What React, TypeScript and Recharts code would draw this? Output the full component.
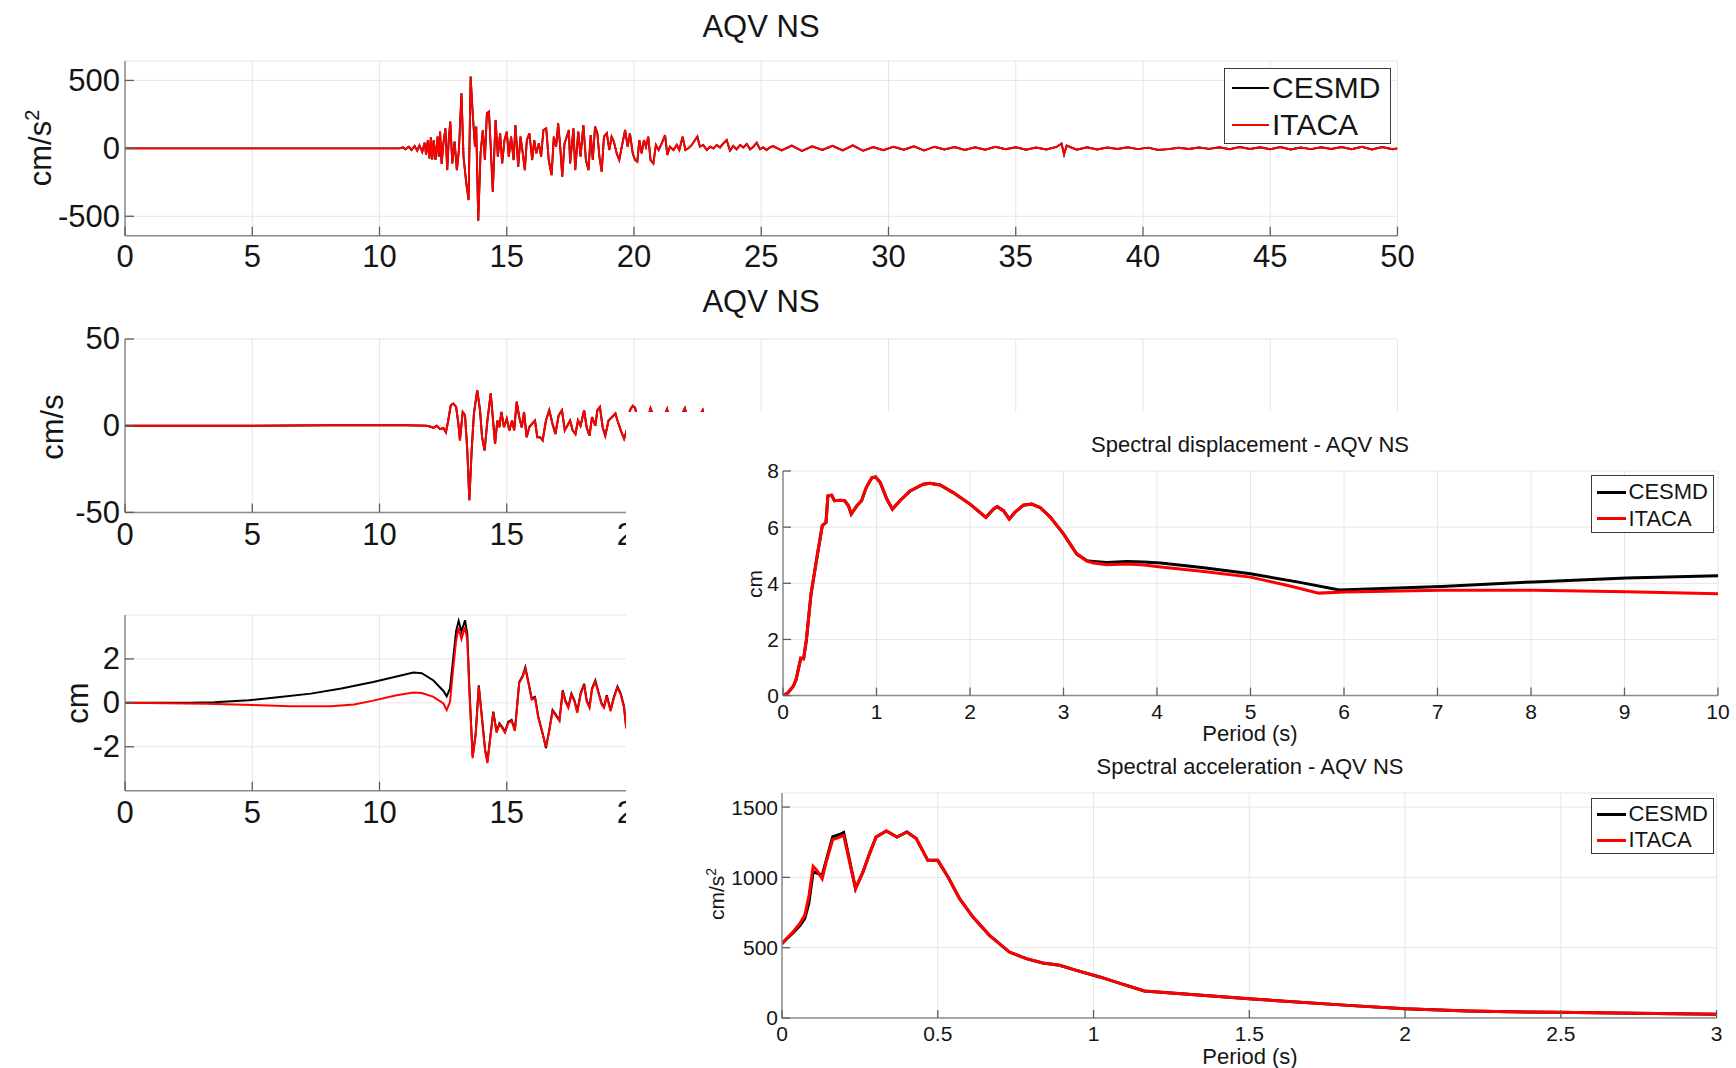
import React from 'react';
import { LineChart, Line, XAxis, YAxis, CartesianGrid } from 'recharts';

type Pt = [number, number];

// ---------- Acceleration (cm/s^2) ----------
const accelerationItaca: Pt[] = [
  [0, 0], [10.5, 0], [10.79, 0], [10.92, 7], [11.02, -7], [11.15, 12], [11.26, -12], [11.38, 17], [11.48, -17],
  [11.57, 22], [11.68, -27], [11.77, 42], [11.83, -49], [11.9, 61], [11.96, -74], [12.02, 81], [12.07, -81],
  [12.13, 61], [12.2, -86], [12.28, 86], [12.33, -61], [12.38, 123], [12.44, -115], [12.51, 37], [12.59, 147],
  [12.66, -160], [12.72, 61], [12.78, 197], [12.86, -111], [12.95, 49], [13.04, -160], [13.12, -12], [13.22, 406],
  [13.3, -61], [13.41, -258], [13.5, -381], [13.58, 528], [13.67, 233], [13.75, 12], [13.8, 160], [13.88, -533],
  [13.97, -37], [14.06, 135], [14.14, -86], [14.22, 258], [14.3, 270], [14.37, 12], [14.45, -320], [14.56, 209],
  [14.65, -61], [14.74, 111], [14.82, -111], [14.91, 61], [15.0, 123], [15.08, -61], [15.17, 86], [15.27, -86],
  [15.34, 172], [15.45, -135], [15.54, 86], [15.63, -37], [15.71, -160], [15.79, 61], [15.89, 111], [16.0, -86],
  [16.08, 61], [16.16, -37], [16.26, 37], [16.35, -61], [16.44, 135], [16.55, 147], [16.65, -86], [16.76, -197],
  [16.85, 86], [16.94, 12], [17.02, 184], [17.1, 12], [17.18, -209], [17.27, 37], [17.36, 86], [17.44, 135],
  [17.49, -111], [17.62, 147], [17.69, -160], [17.81, 123], [17.9, -61], [18.01, 172], [18.11, -86], [18.21, -160],
  [18.3, 98], [18.38, -86], [18.47, 160], [18.56, 111], [18.64, -61], [18.73, -172], [18.82, 86], [18.93, 111],
  [19.03, -12], [19.12, 86], [19.21, 49], [19.32, -37], [19.42, -86], [19.52, 12], [19.65, 135], [19.75, 12],
  [19.84, 111], [19.95, -37], [20.04, -86], [20.13, -98], [20.21, 61], [20.3, -37], [20.39, 61], [20.47, 12],
  [20.56, 86], [20.65, -86], [20.76, -111], [20.86, 25], [20.97, -12], [21.09, 37], [21.22, 98], [21.31, -49],
  [21.41, 12], [21.55, -12], [21.68, 25], [21.78, -12], [21.91, 86], [22.02, -12], [22.13, 0], [22.27, 25],
  [22.4, 61], [22.49, 86], [22.59, 12], [22.72, 25], [22.86, -12], [22.99, 12], [23.12, 0], [23.25, 25],
  [23.38, 7], [23.51, 37], [23.64, 61], [23.77, -17], [23.9, 17], [24.03, -7], [24.17, 25], [24.3, 7],
  [24.43, 32], [24.56, -7], [24.69, 12], [24.82, 42], [24.95, -7], [25.08, 7], [25.21, -12], [25.34, 7],
  [25.47, 17], [25.8, -15], [26.2, 20], [26.6, -20], [27.0, 15], [27.4, -12], [27.8, 18], [28.2, -15],
  [28.6, 22], [29.0, -18], [29.4, 10], [29.8, -14], [30.2, 12], [30.6, -10], [31.0, 15], [31.4, -16],
  [31.8, 12], [32.2, -8], [32.6, 10], [33.0, -12], [33.4, 8], [33.8, -10], [34.2, 12], [34.6, -6], [35.0, 8],
  [35.4, -10], [35.8, 6], [36.2, -8], [36.6, 10], [36.8, 35], [36.9, -45], [37.0, 20], [37.4, -10], [37.8, 8],
  [38.2, -8], [38.6, 6], [39.0, -5], [39.4, 8], [39.8, -6], [40.2, 5], [40.6, -12], [41.0, -6], [41.4, 4],
  [41.8, -5], [42.2, 6], [42.6, -4], [43.0, 8], [43.4, -6], [43.8, 10], [44.2, -5], [44.6, 8], [45.0, -6],
  [45.4, 10], [45.8, -8], [46.2, 6], [46.6, -6], [47.0, 8], [47.4, -5], [47.8, 10], [48.2, -6], [48.6, 12],
  [49.0, -8], [49.4, 10], [49.8, -6], [50, 0],
];
const accelerationCesmd: Pt[] = accelerationItaca;

// ---------- Velocity (cm/s) ----------
const velocityItaca: Pt[] = [
  [0, 0], [5, 0], [8, 0.2], [10, 0.3], [11, 0.3], [11.5, 0.1], [11.85, 0], [11.98, -0.5], [12.12, -1.3],
  [12.25, 0], [12.38, -2], [12.51, -1.3], [12.61, -3.8], [12.7, 3], [12.8, 11.8], [12.9, 12.8], [13.01, 10.8],
  [13.1, 1], [13.16, -8.5], [13.27, 7.9], [13.36, 6], [13.45, -14.3], [13.53, -43], [13.62, -14.3], [13.71, 7],
  [13.84, 20.5], [13.95, 8.9], [14.03, -6.6], [14.13, -14.3], [14.24, 3], [14.37, 18.6], [14.45, 5],
  [14.54, -10.5], [14.63, 3], [14.71, -0.8], [14.79, 8], [14.89, -0.8], [15.0, 4], [15.1, -2.7], [15.21, 3],
  [15.29, -2.7], [15.39, 13.8], [15.49, 5], [15.59, -1], [15.68, 7.9], [15.78, -6.6], [15.89, -0.8], [15.99, 1],
  [16.11, 3], [16.2, -6.6], [16.31, -6.6], [16.41, -8.5], [16.54, 3], [16.67, 8.9], [16.8, 1], [16.91, -4.8],
  [17.04, 6], [17.17, 8.9], [17.28, -2.7], [17.38, 0], [17.49, 3], [17.59, -2.7], [17.7, -4.8], [17.8, 3],
  [17.9, 0], [18.04, 8.9], [18.14, -1], [18.25, -5.8], [18.35, 5], [18.48, 0], [18.56, 8.9], [18.66, 10.8],
  [18.77, -1], [18.87, -5.8], [19.0, 3], [19.14, 5], [19.27, 7], [19.35, 3], [19.48, -2.7], [19.61, -7.6],
  [19.71, -3], [19.84, 8.9], [19.95, 11.5], [20.04, 10.5], [20.2, 0], [20.35, -6], [20.5, 2], [20.65, 10],
  [20.8, 4], [20.95, -5], [21.1, 3], [21.3, 9.5], [21.45, 0], [21.6, -4], [21.8, 4], [22.0, 10], [22.15, 2],
  [22.3, -5], [22.5, 4], [22.7, 9], [22.85, 0], [23.0, -4], [23.3, 5], [23.6, -3], [24, 4], [24.5, -2],
  [25, 3], [26, -2], [28, 1], [30, 0], [35, 0], [40, 0], [45, 0], [50, 0],
];
const velocityCesmd: Pt[] = velocityItaca;

// ---------- Displacement (cm) ----------
const displacementCesmd: Pt[] = [
  [0, 0], [2.6, 0], [3.5, 0.03], [4.86, 0.12], [6, 0.25], [7.3, 0.42], [8.5, 0.65], [9.75, 0.95], [10.67, 1.2],
  [11.33, 1.38], [11.66, 1.35], [12.12, 1.02], [12.51, 0.54], [12.64, 0.3], [12.77, 0.65], [12.9, 2.07],
  [13.01, 3.28], [13.11, 3.73], [13.22, 3.25], [13.36, 3.76], [13.45, 3.13], [13.53, 0.72], [13.66, -2.44],
  [13.78, -1.38], [13.9, 0.8], [14.01, -0.48], [14.15, -2.14], [14.24, -2.66], [14.34, -1.68], [14.47, -0.4],
  [14.6, -1.31], [14.71, -0.93], [14.81, -1.08], [14.93, -1.31], [15.06, -0.86], [15.19, -0.78], [15.32, -1.23],
  [15.49, 0.95], [15.63, 1.25], [15.73, 1.62], [15.85, 0.95], [15.98, 0.2], [16.11, 0.27], [16.24, -0.63],
  [16.41, -1.38], [16.54, -2.06], [16.67, -1.23], [16.8, -0.33], [16.94, -0.56], [17.07, -0.78], [17.2, 0.57],
  [17.3, 0.12], [17.42, -0.18], [17.54, 0.42], [17.66, 0.12], [17.77, -0.4], [17.9, 0.42], [18.04, 0.87],
  [18.14, 0.12], [18.25, -0.18], [18.35, 0.65], [18.48, 1.02], [18.6, 0.5], [18.73, -0.03], [18.82, -0.18],
  [18.93, 0.35], [19.08, -0.33], [19.21, 0.27], [19.35, 0.75], [19.48, 0.42], [19.61, -0.18], [19.69, -1.08],
  [19.9, -1.5], [20.2, -0.5], [21, 0.5], [22, -0.5], [25, 0], [50, 0],
];
const displacementItaca: Pt[] = [
  [0, 0], [3.23, -0.04], [5, -0.1], [6.49, -0.15], [8.1, -0.15], [9.0, -0.08], [9.75, 0.1], [10.67, 0.35],
  [11.33, 0.47], [11.66, 0.45], [12.12, 0.27], [12.51, -0.03], [12.64, -0.33], [12.77, 0.05], [12.9, 1.62],
  [13.01, 2.83], [13.11, 3.43], [13.22, 2.9], [13.36, 3.46], [13.45, 2.83], [13.53, 0.55], [13.66, -2.52],
  [13.78, -1.45], [13.9, 0.75], [14.01, -0.55], [14.15, -2.2], [14.24, -2.74], [14.34, -1.73], [14.47, -0.45],
  [14.6, -1.36], [14.71, -0.98], [14.81, -1.13], [14.93, -1.36], [15.06, -0.91], [15.19, -0.83], [15.32, -1.28],
  [15.49, 0.9], [15.63, 1.2], [15.73, 1.57], [15.85, 0.9], [15.98, 0.15], [16.11, 0.22], [16.24, -0.68],
  [16.41, -1.43], [16.54, -2.0], [16.67, -1.28], [16.8, -0.38], [16.94, -0.61], [17.07, -0.83], [17.2, 0.52],
  [17.3, 0.07], [17.42, -0.23], [17.54, 0.37], [17.66, 0.07], [17.77, -0.45], [17.9, 0.37], [18.04, 0.82],
  [18.14, 0.07], [18.25, -0.23], [18.35, 0.6], [18.48, 0.97], [18.6, 0.45], [18.73, -0.08], [18.82, -0.23],
  [18.93, 0.3], [19.08, -0.38], [19.21, 0.22], [19.35, 0.7], [19.48, 0.37], [19.61, -0.23], [19.69, -1.13],
  [19.9, -1.55], [20.2, -0.55], [21, 0.45], [22, -0.55], [25, 0], [50, 0],
];

// ---------- Spectral displacement (cm) vs period (s) ----------
const sdItaca: Pt[] = [
  [0, 0], [0.05, 0.09], [0.11, 0.33], [0.14, 0.57], [0.19, 1.33], [0.22, 1.31], [0.25, 1.98], [0.3, 3.63],
  [0.375, 5.17], [0.42, 6.05], [0.46, 6.17], [0.48, 7.11], [0.52, 7.14], [0.55, 6.94], [0.61, 6.96],
  [0.66, 6.94], [0.7, 6.76], [0.73, 6.47], [0.79, 6.76], [0.84, 6.94], [0.89, 7.41], [0.95, 7.76], [0.99, 7.79],
  [1.04, 7.59], [1.11, 7.0], [1.17, 6.64], [1.25, 6.94], [1.36, 7.29], [1.5, 7.53], [1.57, 7.56], [1.68, 7.5],
  [1.82, 7.23], [2.0, 6.82], [2.17, 6.35], [2.25, 6.64], [2.29, 6.73], [2.36, 6.58], [2.42, 6.29], [2.48, 6.53],
  [2.57, 6.78], [2.66, 6.82], [2.75, 6.7], [2.86, 6.35], [3.0, 5.76], [3.14, 5.05], [3.25, 4.79], [3.32, 4.72],
  [3.46, 4.66], [3.68, 4.69], [3.86, 4.65], [4.04, 4.58], [4.5, 4.42], [5.0, 4.22], [5.4, 3.92], [5.73, 3.65],
  [6.01, 3.69], [7.04, 3.75], [8.03, 3.75], [9.02, 3.7], [10, 3.63],
];
const sdCesmd: Pt[] = [
  [0, 0], [0.05, 0.09], [0.11, 0.33], [0.14, 0.57], [0.19, 1.33], [0.22, 1.31], [0.25, 1.98], [0.3, 3.63],
  [0.375, 5.17], [0.42, 6.05], [0.46, 6.17], [0.48, 7.11], [0.52, 7.14], [0.55, 6.94], [0.61, 6.96],
  [0.66, 6.94], [0.7, 6.76], [0.73, 6.47], [0.79, 6.76], [0.84, 6.94], [0.89, 7.41], [0.95, 7.76], [0.99, 7.79],
  [1.04, 7.59], [1.11, 7.0], [1.17, 6.64], [1.25, 6.94], [1.36, 7.29], [1.5, 7.53], [1.57, 7.56], [1.68, 7.5],
  [1.82, 7.23], [2.0, 6.82], [2.17, 6.35], [2.25, 6.64], [2.29, 6.73], [2.36, 6.58], [2.42, 6.29], [2.48, 6.53],
  [2.57, 6.78], [2.66, 6.82], [2.75, 6.7], [2.86, 6.35], [3.0, 5.76], [3.14, 5.05], [3.25, 4.8], [3.32, 4.78],
  [3.46, 4.74], [3.68, 4.78], [3.86, 4.76], [4.04, 4.72], [4.5, 4.55], [5.0, 4.34], [5.5, 4.05], [5.95, 3.76],
  [7.04, 3.89], [8.03, 4.05], [9.02, 4.19], [10, 4.27],
];

// ---------- Spectral acceleration (cm/s^2) vs period (s) ----------
const saItaca: Pt[] = [
  [0, 529], [0.014, 564], [0.035, 612], [0.057, 671], [0.073, 730], [0.086, 861], [0.1, 1079], [0.112, 1050],
  [0.129, 991], [0.142, 1110], [0.163, 1268], [0.185, 1287], [0.198, 1299], [0.236, 920], [0.26, 1039],
  [0.281, 1169], [0.302, 1287], [0.335, 1330], [0.369, 1287], [0.401, 1323], [0.431, 1276], [0.468, 1121],
  [0.5, 1121], [0.533, 1003], [0.57, 849], [0.613, 718], [0.666, 588], [0.73, 469], [0.784, 422], [0.837, 391],
  [0.891, 375], [0.945, 339], [1.02, 292], [1.08, 250], [1.163, 192], [1.51, 135], [1.83, 88], [2.0, 66],
  [2.2, 50], [2.48, 40], [2.74, 33], [3.0, 26],
];
const saCesmd: Pt[] = [
  [0, 529], [0.014, 560], [0.035, 605], [0.057, 655], [0.073, 706], [0.086, 815], [0.1, 1040], [0.112, 1030],
  [0.129, 1015], [0.142, 1120], [0.163, 1290], [0.185, 1305], [0.198, 1320], [0.236, 920], [0.26, 1039],
  [0.281, 1169], [0.302, 1287], [0.335, 1330], [0.369, 1287], [0.401, 1323], [0.431, 1276], [0.468, 1121],
  [0.5, 1121], [0.533, 1003], [0.57, 849], [0.613, 718], [0.666, 588], [0.73, 469], [0.784, 422], [0.837, 391],
  [0.891, 375], [0.945, 339], [1.02, 292], [1.08, 250], [1.163, 192], [1.51, 135], [1.83, 88], [2.0, 66],
  [2.2, 50], [2.48, 40], [2.74, 33], [3.0, 26],
];

// ---------- Axis ticks ----------
const timeTicks = [0, 5, 10, 15, 20, 25, 30, 35, 40, 45, 50];
const accTicks = [-500, 0, 500];
const velTicks = [-50, 0, 50];
const dispTicks = [-2, 0, 2];
const periodTicksSD = [0, 1, 2, 3, 4, 5, 6, 7, 8, 9, 10];
const sdTicks = [0, 2, 4, 6, 8];
const periodTicksSA = [0, 0.5, 1, 1.5, 2, 2.5, 3];
const saTicks = [0, 500, 1000, 1500];

const seriesNames = ['CESMD', 'ITACA'];
const seriesColors = ['#000000', '#ff0000'];

const FONT = "'Liberation Sans', Arial, Helvetica, sans-serif";
const BOX = '#8c8c8c';
const TICKC = '#5e5e5e';
const GRID = '#e6e6e6';
const TXT = '#151515';

interface SeriesDef { name: string; data: Pt[]; color: string; width: number }
interface PanelProps {
  plotLeft: number; plotTop: number; plotWidth: number; plotHeight: number;
  xDomain: [number, number]; xTicks: number[]; yDomain: [number, number]; yTicks: number[];
  series: SeriesDef[]; fontSize: number; xLabelOffset: number; yLabelGap: number; tickLen: number;
  xLabelMax?: number;
}

const Panel: React.FC<PanelProps> = (p) => {
  const PL = 150, PT = 34, PR = 40, PB = 50;
  const w = p.plotWidth + PL + PR;
  const h = p.plotHeight + PT + PB;
  const txt = { fontSize: p.fontSize, fontFamily: FONT, fill: TXT } as const;
  const labelMax = p.xLabelMax ?? Infinity;
  const bottomTick = (t: any) => (
    <g>
      <line x1={t.x} y1={t.y} x2={t.x} y2={t.y - p.tickLen} stroke={TICKC} strokeWidth={1.3} />
      {t.payload.value <= labelMax && (
        <text x={t.x} y={t.y + p.xLabelOffset} textAnchor="middle" dominantBaseline="central" {...txt}>{t.payload.value}</text>
      )}
    </g>
  );
  const topTick = (t: any) => (
    <line x1={t.x} y1={t.y} x2={t.x} y2={t.y + p.tickLen} stroke={TICKC} strokeWidth={1.3} />
  );
  const leftTick = (t: any) => (
    <g>
      <line x1={t.x} y1={t.y} x2={t.x + p.tickLen} y2={t.y} stroke={TICKC} strokeWidth={1.3} />
      <text x={t.x - p.yLabelGap} y={t.y} textAnchor="end" dominantBaseline="central" {...txt}>{t.payload.value}</text>
    </g>
  );
  const rightTick = (t: any) => (
    <line x1={t.x} y1={t.y} x2={t.x - p.tickLen} y2={t.y} stroke={TICKC} strokeWidth={1.3} />
  );
  const axisLine = { stroke: BOX, strokeWidth: 1.5 };
  return (
    <div style={{ position: 'absolute', left: p.plotLeft - PL, top: p.plotTop - PT, width: w, height: h }}>
      <LineChart width={w} height={h} margin={{ top: PT, right: PR, bottom: 0, left: 0 }} style={{ overflow: 'visible' }}>
        <CartesianGrid stroke={GRID} strokeWidth={1} />
        <XAxis xAxisId={0} dataKey="t" type="number" domain={p.xDomain} ticks={p.xTicks} allowDataOverflow interval={0}
          height={PB} tickSize={0} tickMargin={0} tickLine={false} axisLine={axisLine} tick={bottomTick} />
        <XAxis xAxisId="top" orientation="top" dataKey="t" type="number" domain={p.xDomain} ticks={p.xTicks} allowDataOverflow interval={0}
          height={0} tickSize={0} tickMargin={0} tickLine={false} axisLine={axisLine} tick={topTick} />
        <YAxis yAxisId={0} type="number" domain={p.yDomain} ticks={p.yTicks} allowDataOverflow interval={0}
          width={PL} tickSize={0} tickMargin={0} tickLine={false} axisLine={axisLine} tick={leftTick} />
        <YAxis yAxisId="right" orientation="right" type="number" domain={p.yDomain} ticks={p.yTicks} allowDataOverflow interval={0}
          width={0} tickSize={0} tickMargin={0} tickLine={false} axisLine={axisLine} tick={rightTick} />
        {p.series.map((s) => (
          <Line key={s.name} xAxisId={0} yAxisId={0} name={s.name} type="linear"
            data={s.data.map(([t, v]) => ({ t, v }))} dataKey="v" stroke={s.color} strokeWidth={s.width}
            dot={false} activeDot={false} isAnimationActive={false} />
        ))}
      </LineChart>
    </div>
  );
};

const Text: React.FC<{ x: number; y: number; size: number; rotate?: boolean; children: React.ReactNode }> = ({ x, y, size, rotate, children }) => (
  <div style={{
    position: 'absolute', left: x, top: y, fontFamily: FONT, fontSize: size, color: TXT, whiteSpace: 'nowrap',
    lineHeight: 1, transform: `translate(-50%, -50%)${rotate ? ' rotate(-90deg)' : ''}`,
  }}>{children}</div>
);

const LegendBox: React.FC<{ left: number; top: number; width: number; height: number; size: number; lineW: number; rows: number[]; lineLen: number; lineLeft: number }> =
  ({ left, top, width, height, size, lineW, rows, lineLen, lineLeft }) => (
    <div style={{ position: 'absolute', left, top, width, height, border: '1.3px solid #3a3a3a', background: '#fff', boxSizing: 'border-box' }}>
      {seriesNames.map((n, i) => (
        <div key={n} style={{ position: 'absolute', left: lineLeft, top: rows[i] - size / 2, height: size, display: 'flex', alignItems: 'center' }}>
          <div style={{ width: lineLen, height: lineW, background: seriesColors[i] }} />
          <span style={{ fontFamily: FONT, fontSize: size, color: TXT, marginLeft: 3, lineHeight: 1 }}>{n}</span>
        </div>
      ))}
    </div>
  );

const mk = (c: Pt[], i: Pt[], w: number): SeriesDef[] => [
  { name: seriesNames[0], data: c, color: seriesColors[0], width: w },
  { name: seriesNames[1], data: i, color: seriesColors[1], width: w },
];

export default function App() {
  return (
    <div style={{ position: 'absolute', left: 0, top: 0, width: 1736, height: 1068, background: '#fff', overflow: 'hidden' }}>
      <Text x={761} y={26} size={31}>AQV NS</Text>
      <Panel plotLeft={125} plotTop={61} plotWidth={1272.5} plotHeight={174.7}
        xDomain={[0, 50]} xTicks={timeTicks} yDomain={[-643, 643]} yTicks={accTicks}
        series={mk(accelerationCesmd, accelerationItaca, 1.9)} fontSize={31} xLabelOffset={21} yLabelGap={5} tickLen={9} />
      <Text x={39} y={148} size={31} rotate>cm/s<sup style={{ fontSize: 20 }}>2</sup></Text>
      <LegendBox left={1224} top={67.7} width={167} height={76.6} size={30} lineW={1.5} rows={[19.3, 56.3]} lineLen={37} lineLeft={7} />

      <Text x={761} y={301} size={31}>AQV NS</Text>
      <Panel plotLeft={125} plotTop={339.3} plotWidth={1272.5} plotHeight={173.4}
        xDomain={[0, 50]} xTicks={timeTicks} yDomain={[-50, 50]} yTicks={velTicks}
        series={mk(velocityCesmd, velocityItaca, 2)} fontSize={31} xLabelOffset={22} yLabelGap={5} tickLen={9} xLabelMax={20} />
      <Text x={52} y={427} size={31} rotate>cm/s</Text>

      <Panel plotLeft={125} plotTop={615} plotWidth={1272.5} plotHeight={175.7}
        xDomain={[0, 50]} xTicks={timeTicks} yDomain={[-4, 4]} yTicks={dispTicks}
        series={mk(displacementCesmd, displacementItaca, 2)} fontSize={31} xLabelOffset={22} yLabelGap={5} tickLen={9} xLabelMax={20} />
      <Text x={77} y={703} size={31} rotate>cm</Text>

      <div style={{ position: 'absolute', left: 626, top: 412, width: 1110, height: 656, background: '#fff' }} />

      <Text x={1250} y={445} size={22}>Spectral displacement - AQV NS</Text>
      <Panel plotLeft={782.6} plotTop={470.7} plotWidth={935} plotHeight={224.6}
        xDomain={[0, 10]} xTicks={periodTicksSD} yDomain={[0, 8]} yTicks={sdTicks}
        series={mk(sdCesmd, sdItaca, 3)} fontSize={21} xLabelOffset={16} yLabelGap={4} tickLen={8} />
      <Text x={754} y={584} size={21} rotate>cm</Text>
      <Text x={1250} y={734} size={22}>Period (s)</Text>
      <LegendBox left={1590.5} top={475} width={123.5} height={57.7} size={22} lineW={3} rows={[16, 42.7]} lineLen={29} lineLeft={5} />

      <Text x={1250} y={767} size={22}>Spectral acceleration - AQV NS</Text>
      <Panel plotLeft={782.4} plotTop={792.7} plotWidth={934.6} plotHeight={225}
        xDomain={[0, 3]} xTicks={periodTicksSA} yDomain={[0, 1600]} yTicks={saTicks}
        series={mk(saCesmd, saItaca, 3)} fontSize={21} xLabelOffset={16} yLabelGap={4} tickLen={8} />
      <Text x={715} y={894} size={21} rotate>cm/s<sup style={{ fontSize: 14 }}>2</sup></Text>
      <Text x={1250} y={1057} size={22}>Period (s)</Text>
      <LegendBox left={1590.5} top={797.7} width={123.5} height={56.3} size={22} lineW={3} rows={[15.6, 41.6]} lineLen={29} lineLeft={5} />
    </div>
  );
}
